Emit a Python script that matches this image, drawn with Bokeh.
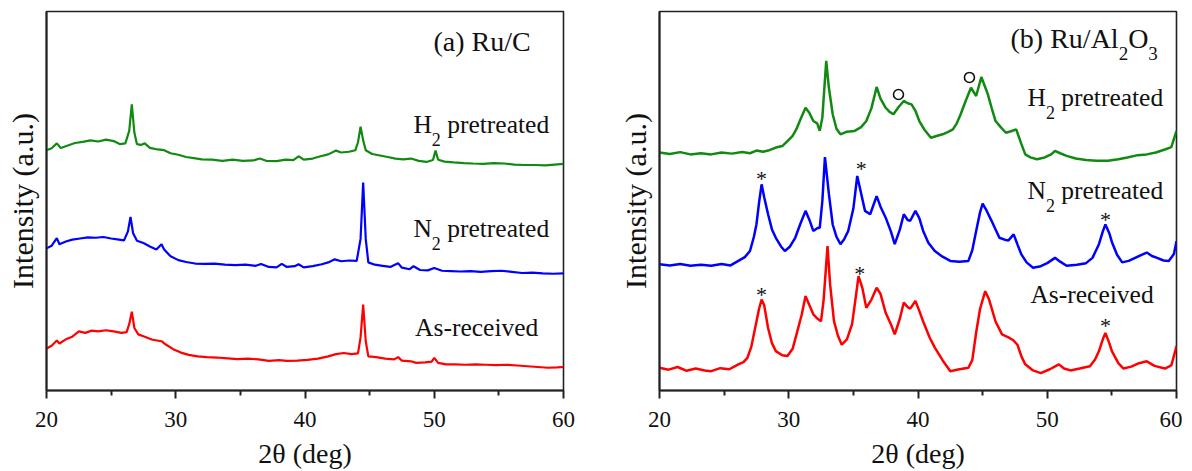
from bokeh.plotting import figure
from bokeh.layouts import row
from bokeh.models import FixedTicker, Range1d
from bokeh.core.properties import value
from bokeh.embed import file_html
from bokeh.resources import INLINE

FONT = "Liberation Serif"

# ---------------- (a) Ru/C ----------------
ruc_h2_x = [20.0, 20.4, 20.8, 21.1, 21.6, 22.2, 22.8, 23.4, 24.0, 24.6, 25.2, 25.7, 26.1, 26.4, 26.6, 26.8,
            27.0, 27.3, 27.6, 28.0, 28.6, 29.1, 29.6, 30.2, 30.8, 31.4, 32.0, 32.8, 33.6, 34.4, 35.2, 36.0,
            36.5, 37.0, 37.8, 38.5, 39.1, 39.5, 39.9, 40.6, 41.2, 41.8, 42.4, 42.8, 43.4, 43.9, 44.1, 44.3,
            44.5, 44.7, 45.2, 45.8, 46.4, 47.0, 47.6, 48.2, 48.8, 49.4, 49.9, 50.1, 50.3, 50.8, 51.5, 52.3,
            53.0, 53.8, 54.6, 55.4, 56.2, 57.0, 57.8, 58.6, 59.3, 60.0]
ruc_h2_y = [63.4, 63.9, 65.2, 64.0, 64.6, 65.3, 65.6, 66.0, 65.7, 66.2, 65.8, 65.0, 65.2, 68.5, 75.5, 68.0,
            65.0, 64.8, 65.2, 64.0, 63.6, 63.4, 62.6, 62.2, 61.6, 61.3, 61.0, 60.9, 60.6, 60.9, 60.6, 60.7,
            61.2, 60.6, 60.5, 60.9, 60.8, 61.8, 60.9, 61.2, 61.8, 62.3, 63.3, 62.8, 63.0, 63.4, 65.5, 69.6,
            66.0, 63.4, 62.4, 62.0, 61.6, 61.2, 61.0, 61.2, 60.6, 60.3, 60.8, 63.3, 60.9, 60.4, 60.2, 60.0,
            59.9, 59.8, 60.0, 59.9, 59.6, 59.5, 59.5, 59.4, 59.6, 59.8]

ruc_n2_x = [20.0, 20.4, 20.8, 21.0, 21.5, 22.0, 22.6, 23.2, 23.8, 24.4, 25.0, 25.6, 26.0, 26.3, 26.5, 26.7,
            27.0, 27.5, 28.0, 28.5, 28.9, 29.1, 29.6, 30.2, 30.8, 31.5, 32.2, 33.0, 33.8, 34.6, 35.4, 36.2,
            36.6, 37.2, 37.8, 38.2, 38.6, 39.2, 39.5, 39.9, 40.6, 41.3, 41.8, 42.3, 42.8, 43.4, 44.0, 44.3,
            44.5, 44.7, 44.9, 45.4, 46.0, 46.6, 47.2, 47.5, 48.1, 48.4, 48.9, 49.5, 50.0, 50.6, 51.3, 52.0,
            52.8, 53.6, 54.4, 55.2, 56.0, 56.8, 57.6, 58.4, 59.2, 60.0]
ruc_n2_y = [37.5, 38.2, 40.2, 38.6, 39.3, 39.8, 40.1, 40.4, 40.3, 40.5, 40.1, 39.8, 39.6, 42.0, 45.8, 41.5,
            39.5, 38.9, 38.0, 37.2, 38.6, 37.2, 35.4, 34.4, 33.9, 33.5, 33.4, 33.5, 33.2, 33.1, 33.2, 32.9,
            33.4, 32.6, 32.5, 33.4, 32.6, 32.8, 33.3, 32.5, 32.8, 33.3, 33.8, 34.6, 34.1, 34.3, 34.2, 40.0,
            54.9, 40.0, 33.8, 33.2, 32.9, 32.6, 33.6, 32.4, 32.0, 32.8, 31.8, 31.7, 32.3, 31.6, 31.5, 31.4,
            31.5, 31.3, 31.5, 31.6, 31.3, 31.0, 31.1, 30.9, 30.8, 30.9]

ruc_as_x = [20.0, 20.4, 20.8, 21.0, 21.5, 22.0, 22.5, 23.0, 23.5, 24.0, 24.6, 25.2, 25.8, 26.2, 26.4, 26.6,
            26.8, 27.1, 27.6, 28.2, 28.9, 29.2, 29.8, 30.4, 31.0, 31.7, 32.4, 33.2, 34.0, 34.8, 35.6, 36.4,
            37.2, 38.0, 38.6, 39.4, 40.2, 41.0, 41.8, 42.4, 43.0, 43.6, 44.1, 44.3, 44.5, 44.7, 44.9, 45.5,
            46.2, 46.9, 47.2, 47.5, 48.2, 48.6, 49.3, 49.8, 50.0, 50.3, 50.9, 51.6, 52.4, 53.2, 54.0, 54.8,
            55.6, 56.4, 57.2, 58.0, 58.8, 59.5, 60.0]
ruc_as_y = [11.1, 11.8, 13.2, 12.4, 13.5, 14.2, 15.6, 15.2, 15.8, 15.6, 15.9, 15.6, 15.2, 15.4, 17.5, 20.8,
            16.5, 14.8, 14.2, 13.4, 13.0, 12.2, 10.9, 10.0, 9.4, 9.0, 8.8, 8.7, 8.5, 8.3, 8.4, 8.2,
            7.8, 8.0, 7.8, 7.9, 8.1, 8.4, 9.0, 9.6, 9.9, 9.6, 9.8, 14.0, 22.7, 13.0, 9.0, 8.8,
            8.4, 8.2, 8.8, 7.9, 7.7, 7.3, 7.4, 7.6, 8.6, 7.3, 6.9, 6.9, 6.8, 6.9, 6.8, 6.7,
            6.8, 6.6, 6.4, 6.2, 6.0, 6.1, 6.2]

# ---------------- (b) Ru/Al2O3 ----------------
rual_h2_x = [20.0, 20.8, 21.6, 22.4, 23.2, 24.0, 24.8, 25.6, 26.4, 27.0, 27.5, 28.0, 28.5, 29.0, 29.5, 29.9,
             30.3, 30.6, 30.9, 31.3, 31.6, 31.9, 32.2, 32.4, 32.6, 32.9, 33.1, 33.4, 33.7, 34.0, 34.5, 35.1,
             35.6, 36.0, 36.4, 36.8, 37.1, 37.5, 37.8, 38.1, 38.5, 38.9, 39.2, 39.5, 39.8, 40.1, 40.5, 41.0,
             41.5, 41.9, 42.3, 42.7, 43.0, 43.3, 43.7, 44.1, 44.5, 44.9, 45.2, 45.4, 45.7, 46.0, 46.4, 46.8,
             47.2, 47.6, 48.0, 48.3, 48.7, 49.2, 49.8, 50.3, 50.6, 51.0, 51.5, 52.2, 53.0, 53.8, 54.7, 55.5,
             56.2, 57.0, 57.7, 58.4, 59.1, 59.6, 60.0]
rual_h2_y = [62.8, 62.4, 62.9, 62.3, 62.6, 62.3, 62.8, 62.5, 62.9, 62.6, 63.3, 63.0, 63.4, 64.1, 64.5, 65.8,
             67.2, 69.0, 71.5, 74.6, 73.2, 71.1, 70.5, 68.5, 72.0, 87.0, 80.0, 72.9, 69.0, 67.6, 68.3, 68.5,
             69.5, 71.1, 74.5, 80.1, 77.0, 74.6, 73.5, 72.9, 74.8, 76.4, 75.8, 75.5, 73.8, 71.1, 68.8, 66.7,
             67.2, 67.6, 68.2, 68.9, 70.5, 72.9, 76.5, 79.9, 77.7, 82.7, 80.0, 78.2, 74.5, 71.1, 69.5, 68.0,
             68.4, 68.9, 65.0, 62.3, 61.5, 61.0, 61.5, 62.3, 63.2, 62.6, 61.9, 61.2, 60.8, 60.6, 60.6, 61.0,
             61.5, 62.1, 62.3, 62.8, 63.6, 64.2, 68.5]

rual_n2_x = [20.0, 20.8, 21.6, 22.4, 23.2, 24.0, 24.8, 25.5, 26.1, 26.6, 27.0, 27.3, 27.5, 27.7, 27.9, 28.1,
             28.4, 28.7, 29.0, 29.4, 29.7, 30.1, 30.5, 30.9, 31.3, 31.6, 31.9, 32.2, 32.4, 32.6, 32.8, 33.1,
             33.4, 33.7, 34.0, 34.3, 34.6, 35.0, 35.3, 35.6, 35.9, 36.3, 36.8, 37.1, 37.5, 37.9, 38.2, 38.6,
             38.9, 39.2, 39.4, 39.8, 40.1, 40.4, 40.8, 41.3, 41.9, 42.5, 43.2, 43.9, 44.2, 44.5, 44.8, 45.0,
             45.3, 45.7, 46.0, 46.3, 46.7, 47.0, 47.4, 47.7, 48.0, 48.4, 48.9, 49.5, 50.0, 50.6, 51.0, 51.5,
             52.3, 53.0, 53.5, 54.0, 54.3, 54.5, 54.8, 55.0, 55.4, 55.8, 56.3, 56.8, 57.3, 57.7, 58.1, 58.5,
             59.0, 59.4, 59.8, 60.0]
rual_n2_y = [33.3, 33.0, 33.4, 32.9, 33.2, 32.9, 33.4, 33.0, 34.2, 35.2, 36.8, 40.5, 43.8, 49.5, 54.4, 51.0,
             46.5, 42.5, 40.3, 38.0, 36.8, 38.0, 40.3, 44.0, 47.4, 45.0, 42.1, 42.8, 43.0, 50.0, 61.6, 52.0,
             43.8, 40.5, 38.6, 40.0, 42.1, 48.0, 56.6, 52.0, 47.4, 46.5, 51.3, 48.5, 45.6, 42.0, 38.6, 42.5,
             46.5, 45.0, 44.8, 47.4, 45.5, 42.1, 39.0, 36.8, 35.3, 34.2, 34.0, 34.2, 37.0, 42.1, 47.0, 49.3,
             47.5, 44.7, 42.5, 40.3, 39.8, 39.6, 41.2, 38.5, 35.9, 33.8, 32.4, 32.8, 33.6, 35.0, 34.0, 32.9,
             33.2, 33.6, 35.0, 38.6, 42.0, 43.8, 41.5, 39.2, 35.8, 33.8, 34.2, 35.0, 35.8, 36.4, 35.5, 35.0,
             34.3, 34.2, 36.0, 39.4]

rual_as_x = [20.0, 20.7, 21.4, 22.1, 22.8, 23.5, 24.0, 24.7, 25.4, 26.1, 26.5, 26.8, 27.1, 27.4, 27.7, 27.9,
             28.1, 28.4, 28.7, 29.0, 29.5, 29.9, 30.3, 30.6, 31.0, 31.3, 31.6, 31.9, 32.2, 32.5, 32.7, 33.0,
             33.2, 33.5, 33.8, 34.1, 34.5, 34.9, 35.2, 35.4, 35.7, 36.0, 36.4, 36.8, 37.1, 37.5, 37.9, 38.2,
             38.6, 38.9, 39.2, 39.4, 39.8, 40.1, 40.4, 40.9, 41.3, 41.9, 42.5, 43.2, 43.9, 44.2, 44.5, 44.8,
             45.2, 45.5, 46.0, 46.5, 47.0, 47.4, 47.7, 48.0, 48.3, 48.9, 49.5, 50.2, 50.9, 51.3, 51.8, 52.5,
             53.3, 53.7, 54.0, 54.3, 54.5, 54.8, 55.0, 55.5, 55.9, 56.5, 57.1, 57.7, 58.3, 59.1, 59.6, 60.0]
rual_as_y = [6.0, 5.5, 6.2, 5.2, 5.8, 5.3, 5.1, 5.9, 5.6, 6.9, 7.5, 8.6, 11.5, 16.5, 21.5, 24.0,
             22.5, 16.5, 12.5, 10.4, 9.3, 9.1, 11.0, 14.8, 20.0, 24.9, 22.5, 20.1, 19.0, 18.3, 24.0, 38.1,
             28.0, 18.3, 14.5, 12.1, 13.5, 17.5, 25.0, 30.2, 27.0, 21.8, 24.0, 27.1, 25.5, 20.5, 17.5, 14.8,
             19.0, 23.2, 22.0, 21.6, 23.6, 21.0, 18.2, 14.0, 11.3, 8.0, 5.1, 5.6, 6.0, 8.0, 15.3, 21.5,
             26.2, 24.0, 18.2, 14.8, 14.0, 13.2, 12.0, 9.0, 6.9, 5.3, 4.6, 5.6, 6.9, 5.8, 5.3, 5.8,
             6.4, 8.2, 10.4, 13.5, 15.2, 12.5, 10.4, 7.2, 5.8, 6.3, 7.2, 7.7, 6.5, 5.8, 6.6, 11.7]

# peak markers (panel b)
circle_x = [38.49, 43.98]
circle_y = [78.1, 82.6]
star_x = [27.9, 35.6, 54.5, 27.9, 35.5, 54.5]
star_y = [57.9, 60.4, 46.9, 27.1, 32.8, 19.0]

x_ticks = [20, 30, 40, 50, 60]
x_minor = [25, 35, 45, 55]
x_title = "2θ (deg)"
y_title = "Intensity (a.u.)"

GREEN = "#118a11"
BLUE = "#0000ff"
RED = "#ff0000"
INK = "#111111"

LABEL_FS = 25.5
SUB_FS = 18
TITLE_FS = 28
SUB_DY = 15
TEXT_DY = 3


def make_fig(left_border, right_border):
    p = figure(frame_width=517, frame_height=379, x_range=Range1d(20, 60), y_range=Range1d(0, 100),
               output_backend="svg", toolbar_location=None,
               min_border_left=left_border, min_border_right=right_border,
               min_border_top=11, min_border_bottom=76)
    p.grid.visible = False
    p.outline_line_color = "#222222"
    p.outline_line_width = 1.6
    p.background_fill_color = "white"
    p.border_fill_color = "white"

    xa = p.xaxis[0]
    xa.ticker = FixedTicker(ticks=x_ticks, minor_ticks=x_minor)
    xa.axis_line_width = 2
    xa.axis_line_color = "#222222"
    xa.major_tick_line_width = 2
    xa.minor_tick_line_width = 2
    xa.major_tick_line_color = "#222222"
    xa.minor_tick_line_color = "#222222"
    xa.major_tick_out = 8
    xa.major_tick_in = 0
    xa.minor_tick_out = 5
    xa.minor_tick_in = 0
    xa.major_label_text_font = FONT
    xa.major_label_text_font_size = "23px"
    xa.major_label_text_color = INK
    xa.major_label_standoff = 13
    xa.axis_label = x_title
    xa.axis_label_text_font = FONT
    xa.axis_label_text_font_size = "28px"
    xa.axis_label_text_font_style = "normal"
    xa.axis_label_text_color = INK
    xa.axis_label_standoff = 8

    ya = p.yaxis[0]
    ya.ticker = FixedTicker(ticks=[])
    ya.axis_line_width = 2
    ya.axis_line_color = "#222222"
    ya.major_tick_out = 0
    ya.major_tick_in = 0
    ya.minor_tick_out = 0
    ya.minor_tick_in = 0
    ya.major_label_standoff = 0
    ya.axis_label = y_title
    ya.axis_label_text_font = FONT
    ya.axis_label_text_font_size = "30px"
    ya.axis_label_text_font_style = "normal"
    ya.axis_label_text_color = INK
    ya.axis_label_standoff = 8
    return p


def txt(p, x, y, s, fs, xoff=0, yoff=0, dy=TEXT_DY):
    p.text(x=[x], y=[y], text=[s], text_font=value(FONT), text_font_size=f"{fs}px",
           text_color=INK, text_align="left", text_baseline="middle",
           x_offset=xoff, y_offset=yoff + dy)


def sub_label(p, x, y, head, sub, tail):
    txt(p, x, y, head, LABEL_FS)
    w = 0.722 * LABEL_FS
    txt(p, x, y, sub, SUB_FS, xoff=w, yoff=SUB_DY)
    txt(p, x, y, tail, LABEL_FS, xoff=w + 0.5 * SUB_FS + 0.25 * LABEL_FS)


# ---- panel (a)
p1 = make_fig(46, 43)
p1.line(ruc_h2_x, ruc_h2_y, line_color=GREEN, line_width=2.2)
p1.line(ruc_n2_x, ruc_n2_y, line_color=BLUE, line_width=2.2)
p1.line(ruc_as_x, ruc_as_y, line_color=RED, line_width=2.2)
txt(p1, 49.94, 91.8, "(a) Ru/C", TITLE_FS, dy=-1)
sub_label(p1, 48.39, 71.0, "H", "2", "pretreated")
sub_label(p1, 48.39, 43.5, "N", "2", "pretreated")
txt(p1, 48.52, 17.4, "As-received", LABEL_FS)

# ---- panel (b)
p2 = make_fig(53, 6)
p2.line(rual_h2_x, rual_h2_y, line_color=GREEN, line_width=2.5)
p2.line(rual_n2_x, rual_n2_y, line_color=BLUE, line_width=2.5)
p2.line(rual_as_x, rual_as_y, line_color=RED, line_width=2.5)
p2.scatter(circle_x, circle_y, marker="circle", size=10, fill_color=None,
           line_color=INK, line_width=1.6)
p2.text(x=star_x, y=star_y, text=["*"] * len(star_x), text_font=value(FONT),
        text_font_size="22px", text_color=INK, text_align="center",
        text_baseline="middle", y_offset=7)
# title with sub-scripts: "(b) Ru/Al" + "2" + "O" + "3"
tx, ty = 47.16, 92.6
txt(p2, tx, ty, "(b) Ru/Al", TITLE_FS, dy=-1)
w1 = 3.861 * TITLE_FS
txt(p2, tx, ty, "2", SUB_FS + 1, xoff=w1, yoff=SUB_DY, dy=-1)
w2 = w1 + 0.5 * (SUB_FS + 1)
txt(p2, tx, ty, "O", TITLE_FS, xoff=w2, dy=-1)
w3 = w2 + 0.722 * TITLE_FS
txt(p2, tx, ty, "3", SUB_FS + 1, xoff=w3, yoff=SUB_DY, dy=-1)
sub_label(p2, 48.47, 78.1, "H", "2", "pretreated")
sub_label(p2, 48.47, 53.6, "N", "2", "pretreated")
txt(p2, 48.7, 26.1, "As-received", LABEL_FS)

layout = row(p1, p2)
open("out.html", "w").write(file_html(layout, INLINE))
